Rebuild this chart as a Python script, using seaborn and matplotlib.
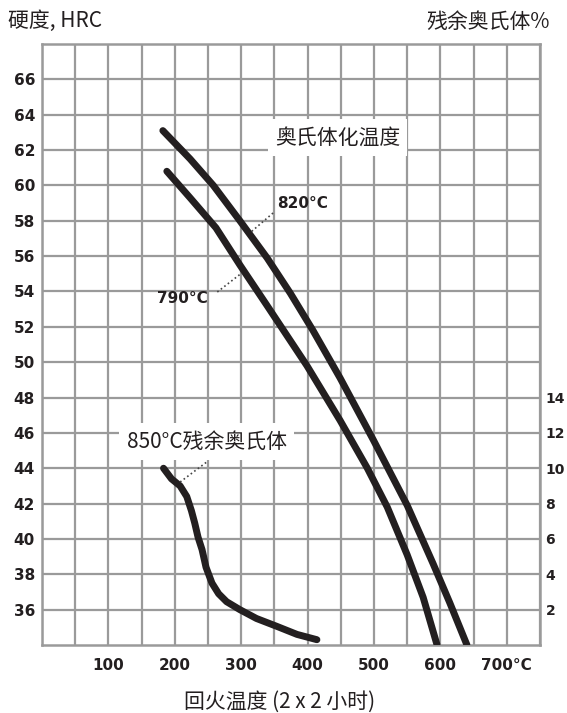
import numpy as np
import pandas as pd
import seaborn as sns
import matplotlib.pyplot as plt

# tempering curves
temp_820 = [182, 223, 258, 298, 339, 374, 408, 449, 499, 550, 589, 614, 640]
hrc_820 = [63.1, 61.5, 60.0, 58.0, 55.9, 53.9, 51.8, 49.1, 45.6, 41.9, 38.6, 36.4, 34.0]

temp_790 = [188, 223, 262, 298, 339, 399, 449, 490, 520, 550, 574, 595]
hrc_790 = [60.8, 59.3, 57.6, 55.5, 53.2, 49.8, 46.7, 44.0, 41.8, 39.1, 36.7, 34.0]

temp_ra = [183, 195, 208, 218, 225, 230, 235, 241, 247, 256, 266, 278, 298, 323, 354, 384, 414]
ra_850 = [10.0, 9.4, 9.0, 8.4, 7.6, 6.9, 6.1, 5.4, 4.4, 3.5, 2.9, 2.45, 2.0, 1.5, 1.05, 0.6, 0.3]

x_ticks = [100, 200, 300, 400, 500, 600, 700]
x_labels = ['100', '200', '300', '400', '500', '600', '700°C']
hrc_ticks = list(range(36, 67, 2))
ra_ticks = list(range(2, 15, 2))

sns.set_theme(style='white')
plt.rcParams['font.family'] = ['Noto Sans CJK SC', 'DejaVu Sans']

grid_col = '#9a9a9a'
ink = '#231f20'

fig = plt.figure(figsize=(5.67, 7.13), dpi=100)
ax = fig.add_axes([42 / 567, 68 / 713, 498 / 567, 601 / 713])

df_820 = pd.DataFrame({'temp': temp_820, 'hrc': hrc_820})
df_790 = pd.DataFrame({'temp': temp_790, 'hrc': hrc_790})
sns.lineplot(data=df_820, x='temp', y='hrc', ax=ax, color=ink, lw=5, zorder=3,
             solid_capstyle='round', solid_joinstyle='round')
sns.lineplot(data=df_790, x='temp', y='hrc', ax=ax, color=ink, lw=5, zorder=3,
             solid_capstyle='round', solid_joinstyle='round')

ax.set_xlim(0, 750)
ax.set_ylim(34, 68)
ax.set_xticks(x_ticks)
ax.set_xticklabels(x_labels)
ax.set_xticks(np.arange(0, 751, 50), minor=True)
ax.set_yticks(hrc_ticks)
ax.grid(True, which='both', color=grid_col, lw=1.6)
ax.set_axisbelow(True)
ax.tick_params(which='both', length=0)
ax.tick_params(axis='x', pad=9)
ax.tick_params(axis='y', pad=5)
for lab in ax.get_xticklabels() + ax.get_yticklabels():
    lab.set_fontfamily('DejaVu Sans')
    lab.set_fontweight('bold')
    lab.set_fontsize(11)
    lab.set_color(ink)
ax.set_xlabel('')
ax.set_ylabel('')
for s in ax.spines.values():
    s.set_color(grid_col)
    s.set_linewidth(1.8)

# right axis: retained austenite %
ax2 = ax.twinx()
df_ra = pd.DataFrame({'temp': temp_ra, 'ra': ra_850})
sns.lineplot(data=df_ra, x='temp', y='ra', ax=ax2, color=ink, lw=5,
             solid_capstyle='round', solid_joinstyle='round')
ax2.set_ylim(0, 34)
ax2.set_yticks(ra_ticks)
ax2.tick_params(length=0, pad=4)
for lab in ax2.get_yticklabels():
    lab.set_fontfamily('DejaVu Sans')
    lab.set_fontweight('bold')
    lab.set_fontsize(10)
    lab.set_color(ink)
ax2.set_ylabel('')
ax2.grid(False)
for s in ax2.spines.values():
    s.set_visible(False)

box = dict(boxstyle='square,pad=0.35', fc='white', ec='none')
T = ax.transData
ax2.text(445, 62.7, '奥氏体化温度', transform=T, fontsize=15, ha='center', va='center',
         color=ink, bbox=box)
ax2.text(248, 45.5, '850°C残余奥氏体', transform=T, fontsize=15, ha='center', va='center',
         color=ink, bbox=box)
ax2.text(393, 58.95, '820°C', transform=T, fontsize=11, fontweight='bold',
         family='DejaVu Sans', ha='center', va='center', color=ink)
ax2.text(212, 53.6, '790°C', transform=T, fontsize=11, fontweight='bold',
         family='DejaVu Sans', ha='center', va='center', color=ink)

# dotted leaders
ax2.plot([348, 313], [58.44, 57.31], transform=T, ls=':', lw=1.2, color='#444444')
ax2.plot([264, 301], [53.97, 55.05], transform=T, ls=':', lw=1.2, color='#444444')
ax2.plot([208, 248], [43.22, 44.35], transform=T, ls=':', lw=1.2, color='#444444')

fig.text(8 / 567, 1 - 21 / 713, '硬度, HRC', fontsize=15, ha='left', va='center', color=ink)
fig.text(550 / 567, 1 - 22 / 713, '残余奥氏体%', fontsize=15, ha='right', va='center', color=ink)
fig.text(280 / 567, 1 - 702 / 713, '回火温度 (2 x 2 小时)', fontsize=15, ha='center',
         va='center', color=ink)

fig.savefig('out.png', dpi=100, facecolor='white')
